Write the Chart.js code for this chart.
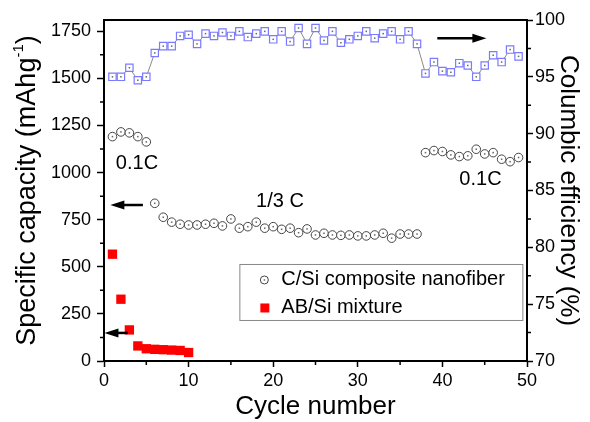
<!DOCTYPE html>
<html><head><meta charset="utf-8">
<script src="https://cdn.jsdelivr.net/npm/chart.js@4/dist/chart.umd.min.js"></script>
<style>html,body{margin:0;padding:0;background:#fff}#wrap{width:590px;height:422px}</style>
</head><body><div id="wrap"><canvas id="c" width="590" height="422"></canvas></div>
<script>
// ---- data ----
const cycles = [1,2,3,4,5,6,7,8,9,10,11,12,13,14,15,16,17,18,19,20,21,22,23,24,25,26,27,28,29,30,31,32,33,34,35,36,37,38,39,40,41,42,43,44,45,46,47,48,49];
const efficiency = [95.0,95.0,95.8,94.7,95.0,97.1,97.7,97.7,98.6,98.7,97.9,98.8,98.6,98.9,98.6,99.0,98.5,98.8,99.0,98.3,99.0,98.1,99.3,97.9,99.3,98.2,99.0,98.0,98.3,98.6,99.0,98.4,98.8,99.0,98.3,99.0,97.9,95.3,96.3,95.5,95.4,96.2,96.0,95.0,96.0,96.9,96.3,97.4,96.8];
const capacityCSi = [1191,1216,1211,1191,1163,837,763,737,726,722,722,726,731,717,754,705,713,737,705,713,699,705,681,701,669,678,669,667,669,664,664,669,678,652,674,674,674,1106,1117,1112,1094,1085,1089,1124,1099,1106,1071,1058,1080];
const cyclesAB = [1,2,3,4,5,6,7,8,9,10];
const capacityAB = [567,328,165,80,65,62,60,58,56,45];
const xTicks = [0,10,20,30,40,50];
const yLeftTicks = [0,250,500,750,1000,1250,1500,1750];
const yRightTicks = [70,75,80,85,90,95,100];
const seriesNames = ['C/Si composite nanofiber','AB/Si mixture'];

const FONT = "'Liberation Sans', Arial, sans-serif";
const pts = (xs, ys) => xs.map((x,i)=>({x:x, y:ys[i]}));
const plain = v => String(v);

const extras = {
  id:'extras',
  afterDatasetsDraw(chart){
    const ctx = chart.ctx;
    ctx.save();
    ctx.fillStyle = '#666';
    [0,1].forEach(di=>{
      chart.getDatasetMeta(di).data.forEach(p=>{ ctx.fillRect(p.x-0.75,p.y-0.75,1.5,1.5); });
    });
    ctx.restore();
  },
  afterDraw(chart){
    const ctx = chart.ctx, a = chart.chartArea;
    const xs = chart.scales.x, yl = chart.scales.y, yr = chart.scales.y2;
    ctx.save();
    // top frame
    ctx.strokeStyle = '#000'; ctx.lineWidth = 2;
    ctx.beginPath(); ctx.moveTo(a.left-1, a.top); ctx.lineTo(a.right+1, a.top); ctx.stroke();
    // minor ticks
    ctx.lineWidth = 1.5;
    ctx.beginPath();
    for (let v=125; v<1800; v+=250){ const y=yl.getPixelForValue(v); ctx.moveTo(a.left-4,y); ctx.lineTo(a.left,y); }
    for (let v=72.5; v<100; v+=5){ const y=yr.getPixelForValue(v); ctx.moveTo(a.right,y); ctx.lineTo(a.right+4,y); }
    for (let v=5; v<50; v+=10){ const x=xs.getPixelForValue(v); ctx.moveTo(x,a.bottom); ctx.lineTo(x,a.bottom+4); }
    ctx.stroke();
    // left title with superscript
    ctx.fillStyle = '#000';
    ctx.translate(28, (a.top+a.bottom)/2);
    ctx.rotate(-Math.PI/2);
    const f1 = '27px '+FONT, f2 = '15px '+FONT;
    const p1 = 'Specific capacity (mAhg', p2 = '-1', p3 = ')';
    ctx.font = f1; const w1 = ctx.measureText(p1).width, w3 = ctx.measureText(p3).width;
    ctx.font = f2; const w2 = ctx.measureText(p2).width;
    let x0 = -(w1+w2+w3)/2;
    ctx.textBaseline = 'middle'; ctx.textAlign = 'left';
    ctx.font = f1; ctx.fillText(p1, x0, 0);
    ctx.font = f2; ctx.fillText(p2, x0+w1, -9);
    ctx.font = f1; ctx.fillText(p3, x0+w1+w2, 0);
    ctx.restore();

    // annotations
    ctx.save();
    ctx.fillStyle = '#000'; ctx.font = '20px '+FONT; ctx.textAlign='center'; ctx.textBaseline='middle';
    const notes = [['0.1C',3.9,1051],['1/3 C',20.8,847],['0.1C',44.5,964]];
    notes.forEach(n=>ctx.fillText(n[0], xs.getPixelForValue(n[1]), yl.getPixelForValue(n[2])));
    const arrow = (x1,y1,x2,y2)=>{
      ctx.strokeStyle='#000'; ctx.lineWidth=2.5;
      const dir = Math.sign(x2-x1);
      ctx.beginPath(); ctx.moveTo(x1,y1); ctx.lineTo(x2-dir*10,y2); ctx.stroke();
      ctx.beginPath(); ctx.moveTo(x2,y2); ctx.lineTo(x2-dir*14,y2-4.5); ctx.lineTo(x2-dir*14,y2+4.5); ctx.closePath(); ctx.fill();
    };
    arrow(xs.getPixelForValue(4.6), yl.getPixelForValue(828), xs.getPixelForValue(0.75), yl.getPixelForValue(828));
    arrow(xs.getPixelForValue(39.4), yr.getPixelForValue(98.4), xs.getPixelForValue(45.2), yr.getPixelForValue(98.4));
    arrow(xs.getPixelForValue(2.8), yl.getPixelForValue(149), xs.getPixelForValue(0.05), yl.getPixelForValue(149));

    // legend
    const lx = xs.getPixelForValue(16.0), ly = yl.getPixelForValue(515);
    const lw = 283, lh = 56;
    ctx.strokeStyle = '#888'; ctx.lineWidth = 1;
    ctx.strokeRect(lx+0.5, ly+0.5, lw, lh);
    ctx.font = '20px '+FONT; ctx.textAlign='left'; ctx.textBaseline='middle';
    ctx.beginPath(); ctx.arc(lx+25, ly+16, 4, 0, Math.PI*2); ctx.fillStyle='#fff'; ctx.fill();
    ctx.strokeStyle='#444'; ctx.stroke();
    ctx.fillStyle='#666'; ctx.fillRect(lx+24.25, ly+15.25, 1.5, 1.5);
    ctx.fillStyle='#000'; ctx.fillText(seriesNames[0], lx+42, ly+16);
    ctx.fillStyle='#ff0000'; ctx.fillRect(lx+21, ly+39.5, 9, 9);
    ctx.fillStyle='#000'; ctx.fillText(seriesNames[1], lx+42, ly+44);
    ctx.restore();
  }
};

new Chart(document.getElementById('c'), {
  type:'line',
  data:{ datasets:[
    { label:'Columbic efficiency', data:pts(cycles, efficiency), yAxisID:'y2',
      showLine:true, borderColor:'#8a8a8a', borderWidth:1, pointStyle:'rect', pointRadius:5.2,
      pointBorderColor:'#7a7aff', pointBackgroundColor:'#ffffff', pointBorderWidth:1.2, tension:0 },
    { label:seriesNames[0], data:pts(cycles, capacityCSi), yAxisID:'y',
      showLine:false, pointStyle:'circle', pointRadius:4.3, pointBorderColor:'#444',
      pointBackgroundColor:'#ffffff', pointBorderWidth:1 },
    { label:seriesNames[1], data:pts(cyclesAB, capacityAB), yAxisID:'y',
      showLine:false, pointStyle:'rect', pointRadius:6.6, pointBorderWidth:0,
      pointBorderColor:'#ff0000', pointBackgroundColor:'#ff0000' }
  ]},
  options:{
    responsive:false, animation:false, devicePixelRatio:1,
    layout:{ padding:{ top:20, left:0, right:0, bottom:0 } },
    plugins:{ legend:{display:false}, tooltip:{enabled:false} },
    scales:{
      x:{ type:'linear', position:'bottom', min:0, max:50,
        afterBuildTicks:s=>{ s.ticks = xTicks.map(v=>({value:v})); },
        ticks:{ font:{family:FONT,size:18}, color:'#000', padding:3, maxRotation:0, callback:plain },
        grid:{ drawOnChartArea:false, tickLength:6, tickColor:'#000', tickWidth:1.5 },
        border:{ color:'#000', width:2 },
        title:{ display:true, text:'Cycle number', font:{family:FONT,size:26}, color:'#000', padding:{top:0,bottom:0} },
        afterFit:s=>{ s.height = 61; } },
      y:{ type:'linear', position:'left', min:0, max:1810,
        afterBuildTicks:s=>{ s.ticks = yLeftTicks.map(v=>({value:v})); },
        ticks:{ font:{family:FONT,size:18}, color:'#000', padding:6, callback:plain },
        grid:{ drawOnChartArea:false, tickLength:7, tickColor:'#000', tickWidth:1.5 },
        border:{ color:'#000', width:2 },
        afterFit:s=>{ s.width = 104; } },
      y2:{ type:'linear', position:'right', min:70, max:100,
        afterBuildTicks:s=>{ s.ticks = yRightTicks.map(v=>({value:v})); },
        ticks:{ font:{family:FONT,size:18}, color:'#000', padding:2, callback:plain },
        grid:{ drawOnChartArea:false, tickLength:6, tickColor:'#000', tickWidth:1.5 },
        border:{ color:'#000', width:2 },
        title:{ display:true, text:'Columbic efficiency (%)', font:{family:FONT,size:26}, color:'#000', padding:{top:6,bottom:0} },
        afterFit:s=>{ s.width = 63; } }
    }
  },
  plugins:[extras]
});
</script></body></html>
